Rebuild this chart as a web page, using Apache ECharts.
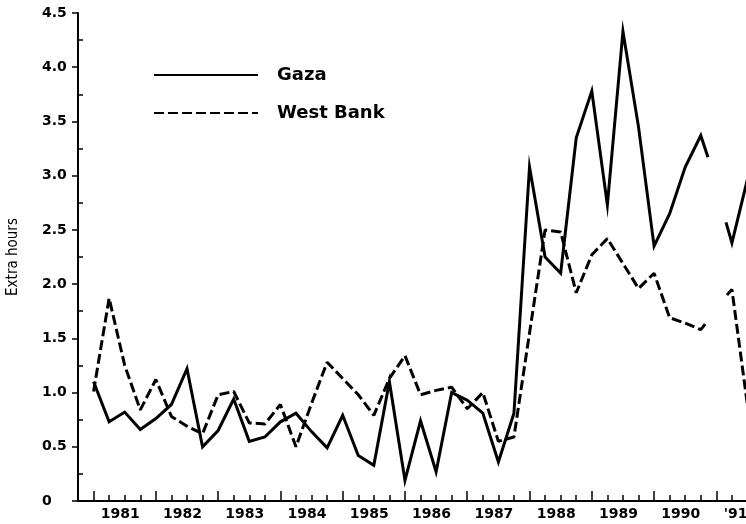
<!DOCTYPE html>
<html>
<head>
<meta charset="utf-8">
<script src="https://cdn.jsdelivr.net/npm/echarts@6/dist/echarts.min.js"></script>
<style>
  html, body { margin: 0; padding: 0; background: #fff; }
  #chart { width: 746px; height: 524px; }
</style>
</head>
<body>
<div id="chart"></div>
<script>
// quarterly values, index 0 = 1981 Q1 ... 42 = 1991 Q3 (null = no data)
const gaza = [
  1.10, 0.73, 0.82, 0.66, 0.76, 0.89, 1.22, 0.50, 0.65, 0.94,
  0.55, 0.59, 0.73, 0.81, 0.64, 0.49, 0.79, 0.42, 0.33, 1.10,
  0.19, 0.74, 0.27, 1.00, 0.93, 0.81, 0.36, 0.81, 3.08, 2.25,
  2.10, 3.35, 3.78, 2.73, 4.33, 3.45, 2.35, 2.65, 3.08, 3.37,
  null, 2.38, 2.97
]
const westBank = [
  1.01, 1.87, 1.25, 0.84, 1.12, 0.78, 0.69, 0.62, 0.98, 1.01,
  0.72, 0.71, 0.89, 0.50, 0.90, 1.28, 1.13, 0.98, 0.79, 1.13,
  1.34, 0.98, 1.02, 1.05, 0.85, 1.00, 0.55, 0.59, 1.55, 2.50,
  2.48, 1.92, 2.27, 2.42, 2.19, 1.96, 2.10, 1.69, 1.64, 1.58,
  null, 1.95, 0.88
]
// where the lines stop / restart around the missing 1991 Q1 value
const gazaGapEdges = [[39.46, 3.17], [40.62, 2.57]]
const westBankGapEdges = [[39.33, 1.64], [40.68, 1.90]]

const yearLabels = ['1981', '1982', '1983', '1984', '1985', '1986', '1987', '1988', '1989', '1990', "'91"]
const yTicks = [0, 0.5, 1.0, 1.5, 2.0, 2.5, 3.0, 3.5, 4.0, 4.5]

// quarter categories from 1980 Q4 (left edge of the axis) to 1991 Q3
const quarters = []
for (let y = 1980; y <= 1991; y++) {
  for (let q = 1; q <= 4; q++) {
    if ((y === 1980 && q < 4) || (y === 1991 && q > 3)) continue
    quarters.push(y + 'Q' + q)
  }
}

function withGap(values, edges) {
  const out = []
  values.forEach((v, i) => {
    if (v === null) {
      out.push(edges[0], [i, '-'], edges[1])
    } else {
      out.push([i, v])
    }
  })
  return out
}

const boldFont = { fontFamily: 'DejaVu Sans', fontWeight: 'bold', color: '#000' }
const GRID_LEFT = 78, GRID_TOP = 13, GRID_W = 669.5, GRID_H = 488
const unitPx = GRID_H / 4.5

const chart = echarts.init(document.getElementById('chart'))
chart.setOption({
  animation: false,
  backgroundColor: '#fff',
  grid: [
    { left: GRID_LEFT, top: GRID_TOP, width: GRID_W, height: GRID_H, outerBoundsMode: 'none', containLabel: false },
    // shifted grid used only for the inward minor ticks on the y axis
    { left: GRID_LEFT, top: GRID_TOP + unitPx * 0.25, width: GRID_W, height: GRID_H - unitPx * 0.5, outerBoundsMode: 'none', containLabel: false }
  ],
  legend: {
    left: 148,
    top: 61,
    orient: 'vertical',
    itemWidth: 104,
    itemHeight: 14,
    itemGap: 20,
    selectedMode: false,
    itemStyle: { opacity: 0 },
    textStyle: { ...boldFont, fontSize: 18, padding: [0, 0, 0, 14] },
    data: ['Gaza', 'West Bank']
  },
  xAxis: [
    { type: 'value', gridIndex: 0, min: -1, max: 42, show: false, position: 'bottom' },
    {
      type: 'category', gridIndex: 0, position: 'bottom', data: quarters, boundaryGap: false,
      axisLine: { onZero: false, lineStyle: { color: '#000', width: 2 } },
      axisTick: { inside: true, length: 6, interval: 0, lineStyle: { color: '#000', width: 1.5 } },
      axisLabel: { show: false },
      splitLine: { show: false }
    },
    {
      type: 'category', gridIndex: 0, position: 'bottom', data: quarters, boundaryGap: false,
      axisLine: { show: false, onZero: false },
      axisTick: { inside: true, length: 10, interval: (idx) => idx % 4 === 1, lineStyle: { color: '#000', width: 1.5 } },
      axisLabel: {
        ...boldFont, fontSize: 14, margin: 6,
        interval: (idx) => idx % 4 === 3,
        formatter: (v, idx) => {
          const label = yearLabels[(idx - 3) / 4]
          return idx === quarters.length - 1 ? label : '{y|' + label + '}'
        },
        rich: { y: { ...boldFont, fontSize: 14, padding: [0, 9, 0, 0] } },
        alignMaxLabel: 'right'
      },
      splitLine: { show: false }
    },
    { type: 'value', gridIndex: 1, min: 0, max: 1, show: false }
  ],
  yAxis: [
    {
      type: 'value', gridIndex: 0, min: 0, max: 4.5, interval: 0.5,
      name: 'Extra hours', nameLocation: 'middle', nameRotate: 90, nameGap: 57,
      nameTextStyle: { fontFamily: 'DejaVu Sans Condensed, DejaVu Sans', fontSize: 15, color: '#000' },
      axisLine: { show: true, onZero: false, lineStyle: { color: '#000', width: 2 } },
      axisTick: { show: true, length: 6, lineStyle: { color: '#000', width: 1.5 } },
      axisLabel: {
        ...boldFont, fontSize: 14, align: 'left', margin: 36,
        customValues: yTicks,
        formatter: (v) => v === 0 ? '0' : v.toFixed(1)
      },
      splitLine: { show: false }
    },
    {
      type: 'value', gridIndex: 1, min: 0, max: 4, interval: 0.5,
      axisLine: { show: false, onZero: false },
      axisTick: { show: true, inside: true, length: 5, lineStyle: { color: '#000', width: 1.5 } },
      axisLabel: { show: false },
      splitLine: { show: false }
    }
  ],
  series: [
    {
      name: 'Gaza', type: 'line', xAxisIndex: 0, yAxisIndex: 0,
      data: withGap(gaza, gazaGapEdges),
      symbol: 'none', connectNulls: false,
      lineStyle: { color: '#000', width: 3, join: 'miter' },
      itemStyle: { color: '#000' }
    },
    {
      name: 'West Bank', type: 'line', xAxisIndex: 0, yAxisIndex: 0,
      data: withGap(westBank, westBankGapEdges),
      symbol: 'none', connectNulls: false,
      lineStyle: { color: '#000', width: 3, type: [10, 4] },
      itemStyle: { color: '#000' }
    }
  ]
})
</script>
</body>
</html>
